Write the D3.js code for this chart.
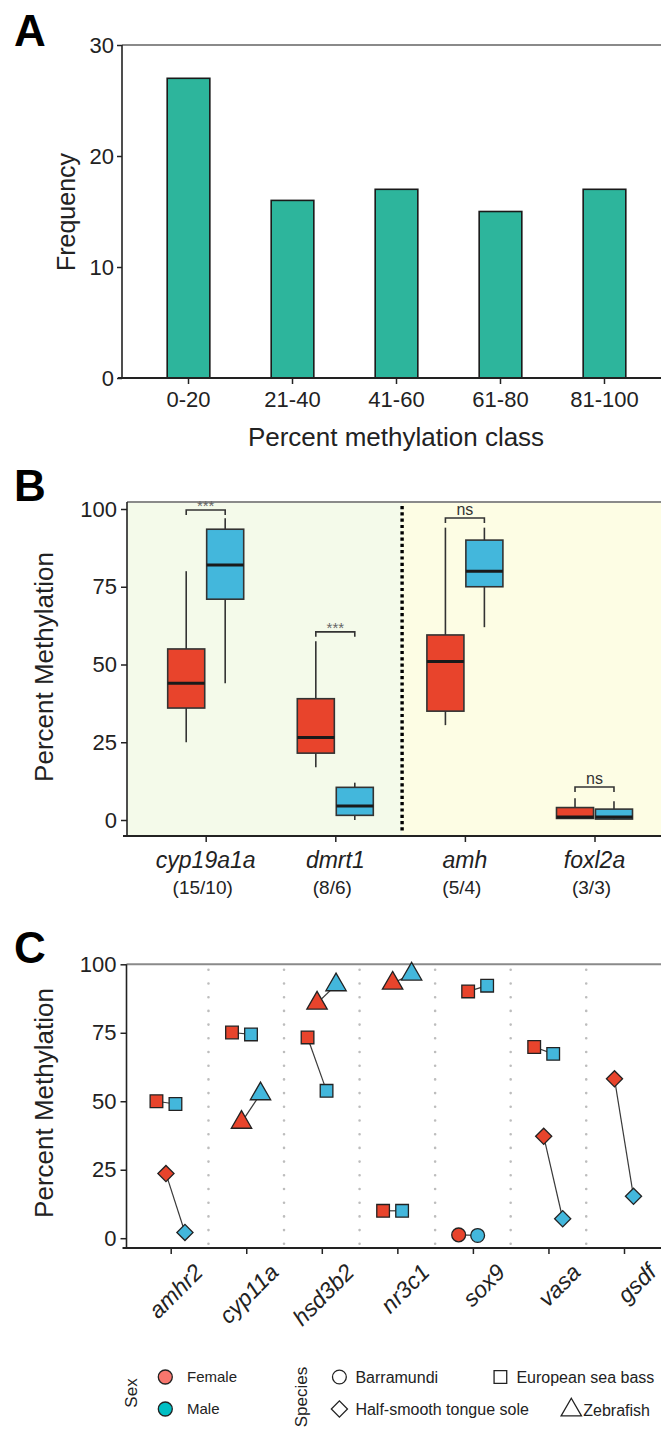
<!DOCTYPE html>
<html>
<head>
<meta charset="utf-8">
<script src="https://cdn.jsdelivr.net/npm/d3@7/dist/d3.min.js"></script>
<style>
body{margin:0;background:#fff}
svg{display:block}
text{font-family:"Liberation Sans",Arial,sans-serif}
</style>
</head>
<body>
<svg id="fig" width="661" height="1431"></svg>
<script>
// ---- panel A data
var classes = ["0-20", "21-40", "41-60", "61-80", "81-100"];
var freq = [27, 16, 17, 15, 17];
var freqTicks = [0, 10, 20, 30];

// ---- panel B data (min, q1, median, q3, max)
var genesB = ["cyp19a1a", "dmrt1", "amh", "foxl2a"];
var countsB = ["(15/10)", "(8/6)", "(5/4)", "(3/3)"];
var femaleB = [[25, 36, 44, 55, 80], [17, 21.5, 26.5, 39, 57.5], [30.5, 35, 51, 59.5, 94], [0.5, 0.5, 1, 4, 7]];
var maleB = [[44, 71, 82, 93.5, 97], [0, 1.5, 4.5, 10.5, 12], [62, 75, 80, 90, 94], [0.2, 0.3, 1, 3.5, 6]];
var sigB = ["***", "***", "ns", "ns"];
var sigLevel = [99.7, 60.5, 97.1, 10.6];
var pctTicks = [0, 25, 50, 75, 100];

// ---- panel C data
var genesC = ["amhr2", "cyp11a", "hsd3b2", "nr3c1", "sox9", "vasa", "gsdf"];
var speciesC = [
  ["European sea bass", "Half-smooth tongue sole"],
  ["European sea bass", "Zebrafish"],
  ["European sea bass", "Zebrafish"],
  ["European sea bass", "Zebrafish"],
  ["Barramundi", "European sea bass"],
  ["European sea bass", "Half-smooth tongue sole"],
  ["Half-smooth tongue sole"]
];
var femaleC = [[50, 23.6], [75.1, 42.3], [73.3, 85.8], [10, 93.1], [1.2, 90.1], [69.8, 37.2], [58.2]];
var maleC = [[49, 2.1], [74.4, 52.7], [53.8, 92.5], [10, 96.4], [1, 92.2], [67.3, 7.1], [15.3]];
var speciesList = ["Barramundi", "European sea bass", "Half-smooth tongue sole", "Zebrafish"];
var sexList = ["Female", "Male"];

var svg = d3.select("#fig");
var ink = "#222";
var fillSex = {Female: "#e8442c", Male: "#43b7dc"};
var legendSex = {Female: "#f8766d", Male: "#00bfc4"};

function txt(g, x, y, s, size, o) {
  o = o || {};
  var t = g.append("text")
    .attr("transform", "translate(" + x + "," + y + ")" + (o.rot ? " rotate(" + o.rot + ")" : ""))
    .attr("font-size", size)
    .attr("text-anchor", o.anchor || "middle")
    .attr("dy", o.dy || "0.35em")
    .attr("fill", o.fill || ink)
    .text(s);
  if (o.italic) t.attr("font-style", "italic");
  if (o.bold) t.attr("font-weight", "bold");
  return t;
}

function styleAxis(g, size) {
  g.select(".domain").remove();
  g.selectAll(".tick line").attr("stroke", ink).attr("stroke-width", 1.5);
  g.selectAll(".tick text").attr("font-size", size).attr("fill", ink)
    .attr("font-family", '"Liberation Sans",Arial,sans-serif');
}

// ================= A =================
var gA = svg.append("g");
var xA = d3.scaleBand().domain(classes).range([136, 657]).paddingInner(0.59).paddingOuter(0.3);
var yA = d3.scaleLinear().domain([0, 30]).range([378, 45]);
var left = 122;

gA.append("line").attr("x1", left).attr("x2", 661).attr("y1", yA(30)).attr("y2", yA(30))
  .attr("stroke", "#8a8a8a").attr("stroke-width", 2);

gA.selectAll("rect.bar").data(freq).enter().append("rect").attr("class", "bar")
  .attr("x", function(d, i) { return xA(classes[i]); })
  .attr("width", xA.bandwidth())
  .attr("y", function(d) { return yA(d); })
  .attr("height", function(d) { return yA(0) - yA(d); })
  .attr("fill", "#2db59c").attr("stroke", "#1a1a1a").attr("stroke-width", 1.6);

gA.append("g").attr("transform", "translate(" + left + ",0)")
  .call(d3.axisLeft(yA).tickValues(freqTicks).tickSize(5).tickPadding(3))
  .call(styleAxis, 22);
gA.append("g").attr("transform", "translate(0," + yA(0) + ")")
  .call(d3.axisBottom(xA).tickSize(6).tickPadding(7))
  .call(styleAxis, 22);
gA.append("line").attr("x1", left).attr("x2", left).attr("y1", yA(30)).attr("y2", yA(0) + 1)
  .attr("stroke", ink).attr("stroke-width", 1.6);
gA.append("line").attr("x1", left - 4).attr("x2", 661).attr("y1", yA(0)).attr("y2", yA(0))
  .attr("stroke", ink).attr("stroke-width", 2.2);

txt(gA, 396, 437, "Percent methylation class", 26);
txt(gA, 66, 212, "Frequency", 25, {rot: -90});
txt(gA, 14, 31, "A", 44, {anchor: "start", bold: true, fill: "#000"});

// ================= B =================
var gB = svg.append("g");
var xB = d3.scalePoint().domain(genesB).range([205.7, 594.5]);
var yB = d3.scaleLinear().domain([0, 100]).range([820, 509]);
var dodge = d3.scaleBand().domain(sexList).range([-38, 38]).paddingInner(0.05);
var leftB = 127, topB = 502, botB = 836;
var split = (xB("dmrt1") + xB("amh")) / 2 + 2;

gB.append("rect").attr("x", leftB).attr("y", topB).attr("width", split - leftB).attr("height", botB - topB)
  .attr("fill", "#f4faea");
gB.append("rect").attr("x", split).attr("y", topB).attr("width", 661 - split).attr("height", botB - topB)
  .attr("fill", "#fdfde4");
gB.append("line").attr("x1", leftB).attr("x2", 661).attr("y1", topB).attr("y2", topB)
  .attr("stroke", "#8a8a8a").attr("stroke-width", 2);
gB.append("line").attr("x1", split).attr("x2", split).attr("y1", topB + 4).attr("y2", botB - 4)
  .attr("stroke", "#000").attr("stroke-width", 3.4).attr("stroke-dasharray", "3.2,3.1");

var boxes = [];
genesB.forEach(function(g, i) {
  boxes.push({gene: g, sex: "Female", s: femaleB[i]});
  boxes.push({gene: g, sex: "Male", s: maleB[i]});
});
var bw = dodge.bandwidth();
var bx = gB.selectAll("g.box").data(boxes).enter().append("g").attr("class", "box")
  .attr("transform", function(d) { return "translate(" + (xB(d.gene) + dodge(d.sex)) + ",0)"; });
bx.append("line").attr("x1", bw / 2).attr("x2", bw / 2)
  .attr("y1", function(d) { return yB(d.s[0]); }).attr("y2", function(d) { return yB(d.s[4]); })
  .attr("stroke", "#333").attr("stroke-width", 1.6);
bx.append("rect").attr("x", 0).attr("width", bw)
  .attr("y", function(d) { return yB(d.s[3]); })
  .attr("height", function(d) { return Math.max(yB(d.s[1]) - yB(d.s[3]), 1); })
  .attr("fill", function(d) { return fillSex[d.sex]; })
  .attr("stroke", "#333").attr("stroke-width", 1.6);
bx.append("line").attr("x1", 0).attr("x2", bw)
  .attr("y1", function(d) { return yB(d.s[2]); }).attr("y2", function(d) { return yB(d.s[2]); })
  .attr("stroke", "#1a1a1a").attr("stroke-width", 3);

// significance brackets
genesB.forEach(function(g, i) {
  var x1 = xB(g) + dodge("Female") + bw / 2, x2 = xB(g) + dodge("Male") + bw / 2, y = yB(sigLevel[i]);
  gB.append("path").attr("d", "M" + x1 + "," + (y + 5) + "V" + y + "H" + x2 + "V" + (y + 5))
    .attr("fill", "none").attr("stroke", "#333").attr("stroke-width", 1.6);
  txt(gB, (x1 + x2) / 2, y - (sigB[i] == "ns" ? 9 : 4), sigB[i], sigB[i] == "ns" ? 16 : 15,
    {fill: sigB[i] == "ns" ? "#333" : "#666"});
});

gB.append("g").attr("transform", "translate(" + leftB + ",0)")
  .call(d3.axisLeft(yB).tickValues(pctTicks).tickSize(6).tickPadding(4))
  .call(styleAxis, 22);
var axB = gB.append("g").attr("transform", "translate(0," + botB + ")")
  .call(d3.axisBottom(xB).tickSize(6).tickFormat(""));
styleAxis(axB, 22);
gB.append("line").attr("x1", leftB).attr("x2", leftB).attr("y1", topB).attr("y2", botB + 1)
  .attr("stroke", ink).attr("stroke-width", 1.6);
gB.append("line").attr("x1", leftB - 4).attr("x2", 661).attr("y1", botB).attr("y2", botB)
  .attr("stroke", ink).attr("stroke-width", 2.2);
genesB.forEach(function(g, i) {
  txt(gB, xB(g), 860, g, 23, {italic: true});
  txt(gB, xB(g) - 3, 887, countsB[i], 19);
});
txt(gB, 44, 667, "Percent Methylation", 26, {rot: -90});
txt(gB, 14, 486, "B", 44, {anchor: "start", bold: true, fill: "#000"});

// ================= C =================
var gC = svg.append("g");
var xC = d3.scalePoint().domain(genesC).range([170.7, 624]);
var yC = d3.scaleLinear().domain([0, 100]).range([1238.2, 964.3]);
var leftC = 126.5, botC = 1248;
var shapeOf = {
  "Barramundi": d3.symbol().type(d3.symbolCircle).size(150),
  "European sea bass": d3.symbol().type(d3.symbolSquare).size(160),
  "Half-smooth tongue sole": d3.symbol().type(d3.symbolSquare).size(130),
  "Zebrafish": d3.symbol().type(d3.symbolTriangle).size(180)
};
var rotOf = {"Half-smooth tongue sole": 45};

gC.append("line").attr("x1", leftC).attr("x2", 661).attr("y1", yC(100)).attr("y2", yC(100))
  .attr("stroke", "#8a8a8a").attr("stroke-width", 2);
for (var k = 0; k < genesC.length - 1; k++) {
  var mx = (xC(genesC[k]) + xC(genesC[k + 1])) / 2;
  gC.append("line").attr("x1", mx).attr("x2", mx).attr("y1", yC(98)).attr("y2", botC - 2)
    .attr("stroke", "#bdbdbd").attr("stroke-width", 2.6).attr("stroke-linecap", "round")
    .attr("stroke-dasharray", "0,13.7");
}

var pts = [];
genesC.forEach(function(g, i) {
  var n = speciesC[i].length;
  speciesC[i].forEach(function(sp, j) {
    var off = (j - (n - 1) / 2) * 9.5;
    pts.push({gene: g, sp: sp, sex: "Female", v: femaleC[i][j], x: xC(g) + off - 9.5});
    pts.push({gene: g, sp: sp, sex: "Male", v: maleC[i][j], x: xC(g) + off + 9.5});
  });
});
for (var p = 0; p < pts.length; p += 2) {
  gC.append("line").attr("x1", pts[p].x).attr("y1", yC(pts[p].v))
    .attr("x2", pts[p + 1].x).attr("y2", yC(pts[p + 1].v))
    .attr("stroke", "#3a3a3a").attr("stroke-width", 1.2);
}
gC.selectAll("path.pt").data(pts).enter().append("path").attr("class", "pt")
  .attr("d", function(d) { return shapeOf[d.sp](); })
  .attr("transform", function(d) {
    return "translate(" + d.x + "," + yC(d.v) + ")" + (rotOf[d.sp] ? " rotate(45)" : "");
  })
  .attr("fill", function(d) { return fillSex[d.sex]; })
  .attr("stroke", "#222").attr("stroke-width", 1.3);

gC.append("g").attr("transform", "translate(" + leftC + ",0)")
  .call(d3.axisLeft(yC).tickValues(pctTicks).tickSize(6).tickPadding(4))
  .call(styleAxis, 22);
var axC = gC.append("g").attr("transform", "translate(0," + botC + ")")
  .call(d3.axisBottom(xC).tickSize(6).tickFormat(""));
styleAxis(axC, 22);
gC.append("line").attr("x1", leftC).attr("x2", leftC).attr("y1", yC(100)).attr("y2", botC + 1)
  .attr("stroke", ink).attr("stroke-width", 1.6);
gC.append("line").attr("x1", leftC - 4).attr("x2", 661).attr("y1", botC).attr("y2", botC)
  .attr("stroke", ink).attr("stroke-width", 2.2);
genesC.forEach(function(g) {
  txt(gC, xC(g) + 22, 1262, g, 23, {italic: true, rot: -45, anchor: "end", dy: "0.72em"});
});
txt(gC, 44, 1103, "Percent Methylation", 26, {rot: -90});
txt(gC, 14, 948, "C", 44, {anchor: "start", bold: true, fill: "#000"});

// legend
var gL = svg.append("g");
txt(gL, 131, 1393, "Sex", 17, {rot: -90});
sexList.forEach(function(s, i) {
  var y = 1377 + i * 32;
  gL.append("circle").attr("cx", 165.3).attr("cy", y).attr("r", 7)
    .attr("fill", legendSex[s]).attr("stroke", "#222").attr("stroke-width", 1.3);
  txt(gL, 187, y, s, 15, {anchor: "start"});
});
txt(gL, 301.5, 1397, "Species", 17, {rot: -90});
var legPos = [[339.4, 1377], [500.4, 1377], [339.4, 1409], [571.3, 1410]];
speciesList.forEach(function(sp, i) {
  gL.append("path").attr("d", shapeOf[sp]())
    .attr("transform", "translate(" + legPos[i][0] + "," + legPos[i][1] + ")" + (rotOf[sp] ? " rotate(45)" : ""))
    .attr("fill", "none").attr("stroke", "#222").attr("stroke-width", 1.3);
  txt(gL, legPos[i][0] + (sp == "Zebrafish" ? 12 : 16), legPos[i][1], sp, 16, {anchor: "start"});
});
</script>
</body>
</html>
